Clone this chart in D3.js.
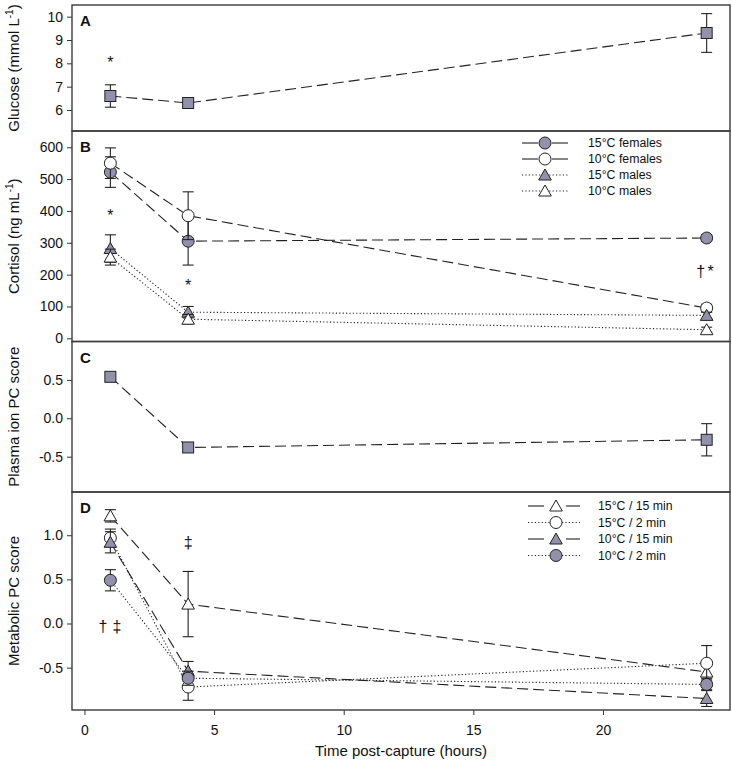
<!DOCTYPE html>
<html><head><meta charset="utf-8">
<script src="https://cdn.jsdelivr.net/npm/d3@7"></script>
<style>body{margin:0;background:#fff;} svg{display:block;font-family:"Liberation Sans",Arial,sans-serif;}</style>
</head><body><svg id="c" width="732" height="768"></svg>
<script>
// ---------- DATA ----------
const times = [1, 4, 24];
const xTicks = [0, 5, 10, 15, 20];

// Panel A: glucose
const glucoseMean = [6.6, 6.3, 9.3];
const glucoseErr = [0.48, 0.08, 0.83];
const glucoseTicks = [6, 7, 8, 9, 10];

// Panel B: cortisol
const cortisolNames = ["15°C females", "10°C females", "15°C males", "10°C males"];
const cort15F = [522, 305, 315], cort15FErr = [48, 75, 10];
const cort10F = [550, 385, 95], cort10FErr = [48, 75, 12];
const cort15M = [282, 82, 72], cort15MErr = [43, 18, 10];
const cort10M = [255, 60, 27], cort10MErr = [25, 15, 8];
const cortisolTicks = [0, 100, 200, 300, 400, 500, 600];

// Panel C: plasma ion PC
const ionMean = [0.54, -0.38, -0.28];
const ionErr = [0.05, 0.02, 0.21];
const ionTicks = [-0.5, 0.0, 0.5];

// Panel D: metabolic PC
const metabNames = ["15°C / 15 min", "15°C / 2 min", "10°C / 15 min", "10°C / 2 min"];
const met15_15 = [1.22, 0.22, -0.55], met15_15Err = [0.07, 0.37, 0.07];
const met15_2 = [0.97, -0.72, -0.45], met15_2Err = [0.10, 0.15, 0.20];
const met10_15 = [0.92, -0.54, -0.85], met10_15Err = [0.12, 0.11, 0.09];
const met10_2 = [0.49, -0.62, -0.69], met10_2Err = [0.12, 0.08, 0.06];
const metabTicks = [-0.5, 0.0, 0.5, 1.0];

// significance marks: [time, value(baseline), text, dx]
const notesA = [[1, 7.81, "*", 0]];
const notesB = [[1, 368, "*", 0], [4, 149, "*", 0], [24, 194, "†", -6], [24, 194, "*", 4]];
const notesD = [[1, -0.10, "†", -7.5], [1, -0.10, "‡", 6.5], [4, 0.854, "‡", 0]];

// ---------- STYLE / LAYOUT ----------
const GREY = "#9191ab", WHITE = "#ffffff", INK = "#222";
const DASH = "11,5", DOT = "1.2,2.2";
const svg = d3.select("#c");
const xL = 72, xR = 730;
const x = d3.scaleLinear().domain([-0.48, 24.9]).range([xL, xR]);

function seriesOf(mean, err, shape, fill, style, name) {
  return {name, shape, fill, style, pts: times.map((t, i) => ({t, v: mean[i], e: err[i]}))};
}

const panels = [
  {top: 5, bottom: 131, domain: [5.1, 10.5], ticks: glucoseTicks, fmt: d => String(d), letter: "A",
   title: ["Glucose (mmol L", "-1", ")"],
   series: [seriesOf(glucoseMean, glucoseErr, "square", GREY, "dash")], notes: notesA},
  {top: 131, bottom: 341.5, domain: [-10, 651], ticks: cortisolTicks, fmt: d => String(d), letter: "B",
   title: ["Cortisol (ng mL", "-1", ")"],
   series: [
     seriesOf(cort15F, cort15FErr, "circle", GREY, "dash", cortisolNames[0]),
     seriesOf(cort10F, cort10FErr, "circle", WHITE, "dash", cortisolNames[1]),
     seriesOf(cort15M, cort15MErr, "triangle", GREY, "dot", cortisolNames[2]),
     seriesOf(cort10M, cort10MErr, "triangle", WHITE, "dot", cortisolNames[3])],
   notes: notesB,
   legend: {x0: 522, x1: 568, xm: 545, gl: 538, gr: 552, tx: 588, rows: [143, 159, 175, 191]}},
  {top: 341.5, bottom: 492, domain: [-0.96, 1.0], ticks: ionTicks, fmt: d => d.toFixed(1), letter: "C",
   title: ["Plasma ion PC score"],
   series: [seriesOf(ionMean, ionErr, "square", GREY, "dash")], notes: []},
  {top: 492, bottom: 710, domain: [-0.98, 1.49], ticks: metabTicks, fmt: d => d.toFixed(1), letter: "D",
   title: ["Metabolic PC score"],
   series: [
     seriesOf(met15_15, met15_15Err, "triangle", WHITE, "dash", metabNames[0]),
     seriesOf(met15_2, met15_2Err, "circle", WHITE, "dot", metabNames[1]),
     seriesOf(met10_15, met10_15Err, "triangle", GREY, "dash", metabNames[2]),
     seriesOf(met10_2, met10_2Err, "circle", GREY, "dot", metabNames[3])],
   notes: notesD,
   legend: {x0: 528, x1: 580, xm: 556, gl: 544, gr: 566, tx: 598, rows: [506, 522.5, 539, 555.5]}}
];

function drawMarker(g, shape, fill, cx, cy) {
  if (shape === "square") {
    g.append("rect").attr("x", cx - 5.5).attr("y", cy - 5.5).attr("width", 11).attr("height", 11)
      .attr("fill", fill).attr("stroke", INK).attr("stroke-width", 1);
  } else if (shape === "circle") {
    g.append("circle").attr("cx", cx).attr("cy", cy).attr("r", 6)
      .attr("fill", fill).attr("stroke", INK).attr("stroke-width", 1);
  } else {
    g.append("path").attr("d", `M${cx},${cy - 6}L${cx + 6.3},${cy + 5}L${cx - 6.3},${cy + 5}Z`)
      .attr("fill", fill).attr("stroke", INK).attr("stroke-width", 1);
  }
}

panels.forEach(p => {
  const y = d3.scaleLinear().domain(p.domain).range([p.bottom, p.top]);
  const g = svg.append("g");

  // y axis
  const ax = g.append("g").attr("transform", `translate(${xL},0)`)
    .call(d3.axisLeft(y).tickValues(p.ticks).tickSize(5).tickPadding(4).tickFormat(p.fmt));
  ax.select(".domain").remove();
  ax.selectAll("line").attr("stroke", "#333");
  ax.selectAll("text").attr("font-size", 14).attr("fill", "#111")
    .attr("font-family", "Liberation Sans, Arial, sans-serif");

  // title
  const cy = (p.top + p.bottom) / 2;
  const t = g.append("text").attr("transform", `translate(19,${cy}) rotate(-90)`)
    .attr("text-anchor", "middle").attr("font-size", 15).attr("fill", "#111");
  t.append("tspan").text(p.title[0]);
  if (p.title.length > 1) {
    t.append("tspan").attr("font-size", 10).attr("dy", -6).text(p.title[1]);
    t.append("tspan").attr("dy", 6).text(p.title[2]);
  }

  // letter
  g.append("text").attr("x", 80).attr("y", p.top + 21).attr("font-weight", "bold")
    .attr("font-size", 15).attr("fill", "#111").text(p.letter);

  // series
  const line = d3.line().x(d => x(d.t)).y(d => y(d.v));
  p.series.forEach(s => {
    const sg = g.append("g");
    sg.append("path").attr("d", line(s.pts)).attr("fill", "none").attr("stroke", INK)
      .attr("stroke-width", 1.1)
      .attr("stroke-dasharray", s.style === "dash" ? DASH : DOT);
    s.pts.forEach(d => {
      const cx = x(d.t), y1 = y(d.v + d.e), y2 = y(d.v - d.e);
      sg.append("line").attr("x1", cx).attr("x2", cx).attr("y1", y1).attr("y2", y2)
        .attr("stroke", INK).attr("stroke-width", 1.1);
      [y1, y2].forEach(yy => sg.append("line").attr("x1", cx - 5.5).attr("x2", cx + 5.5)
        .attr("y1", yy).attr("y2", yy).attr("stroke", INK).attr("stroke-width", 1.1));
    });
    s.pts.forEach(d => drawMarker(sg, s.shape, s.fill, x(d.t), y(d.v)));
  });

  // notes
  p.notes.forEach(n => {
    g.append("text").attr("x", x(n[0]) + n[3]).attr("y", y(n[1])).attr("text-anchor", "middle")
      .attr("font-size", 16).attr("fill", "#111").text(n[2]);
  });

  // legend
  if (p.legend) {
    const L = p.legend;
    p.series.forEach((s, i) => {
      const ry = L.rows[i];
      if (s.style === "dash") {
        g.append("line").attr("x1", L.x0).attr("x2", L.gl).attr("y1", ry).attr("y2", ry)
          .attr("stroke", INK).attr("stroke-width", 1.1);
        g.append("line").attr("x1", L.gr).attr("x2", L.x1).attr("y1", ry).attr("y2", ry)
          .attr("stroke", INK).attr("stroke-width", 1.1);
      } else {
        g.append("line").attr("x1", L.x0).attr("x2", L.x1).attr("y1", ry).attr("y2", ry)
          .attr("stroke", INK).attr("stroke-width", 1.1).attr("stroke-dasharray", DOT);
      }
      drawMarker(g, s.shape, s.fill, L.xm, ry);
      g.append("text").attr("x", L.tx).attr("y", ry).attr("dy", "0.35em")
        .attr("font-size", 12.3).attr("fill", "#111").text(s.name);
    });
  }

  // frame
  g.append("rect").attr("x", xL).attr("y", p.top).attr("width", xR - xL).attr("height", p.bottom - p.top)
    .attr("fill", "none").attr("stroke", "#3a3a3a").attr("stroke-width", 1.4);
});

// x axis (bottom panel)
const xa = svg.append("g").attr("transform", `translate(0,710)`)
  .call(d3.axisBottom(x).tickValues(xTicks).tickSize(5).tickPadding(10).tickFormat(d => String(d)));
xa.select(".domain").remove();
xa.selectAll("line").attr("stroke", "#333");
xa.selectAll("text").attr("font-size", 14).attr("fill", "#111")
  .attr("font-family", "Liberation Sans, Arial, sans-serif");

svg.append("text").attr("x", 401).attr("y", 756).attr("text-anchor", "middle")
  .attr("font-size", 15).attr("fill", "#111").text("Time post-capture (hours)");
</script></body></html>
